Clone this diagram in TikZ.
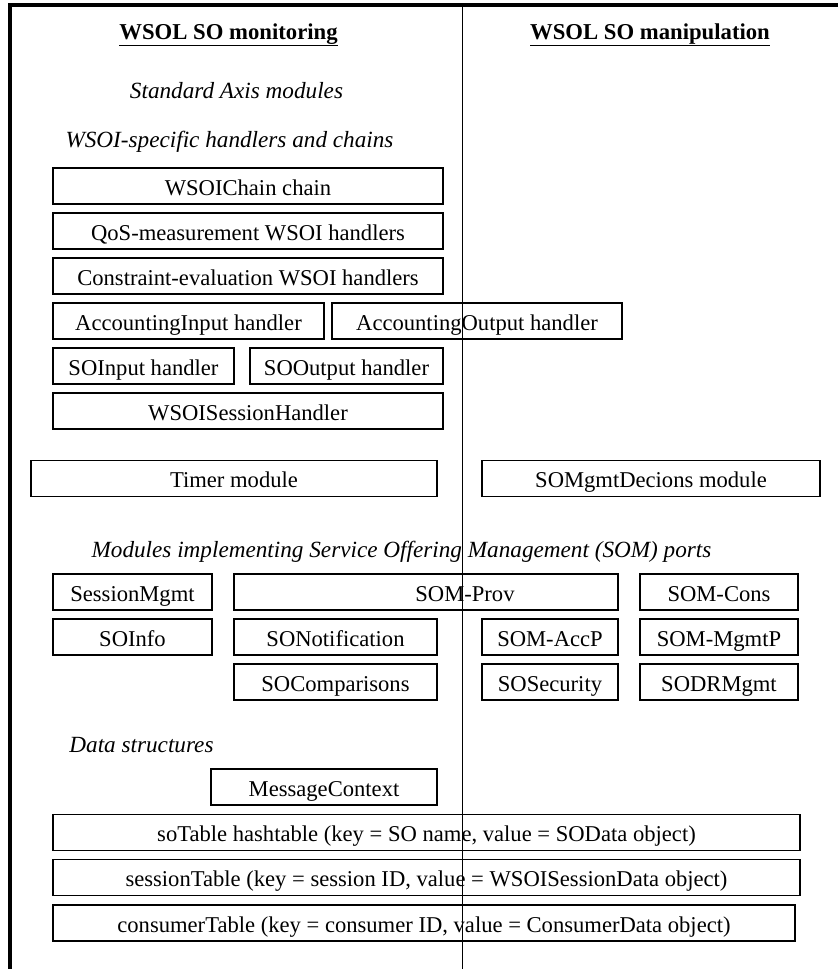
\documentclass[tikz,border=0pt]{standalone}
\usepackage{fontspec}
\setmainfont{Liberation Serif}
\usepackage{tikz}
\tikzstyle{module} = [rectangle, minimum height=36pt, inner sep=0pt, text height=20pt, text depth=2pt, text centered, draw=black, line width=1.6pt]
\tikzstyle{heading} = [anchor=base, font=\fontsize{22.7}{24}\selectfont\bfseries]
\tikzstyle{group} = [anchor=base, font=\fontsize{23.2}{25}\selectfont\itshape]
\tikzstyle{frame} = [line width=4pt]
\tikzstyle{divider} = [line width=0.8pt]

\begin{document}
\begin{tikzpicture}[x=1pt, y=-1pt, node distance=45pt, font=\fontsize{22.6}{24}\selectfont]
\useasboundingbox (0,0) rectangle (838,969);

% Frame and column divider
\coordinate (topLeft) at (10,5);
\coordinate (topRight) at (838,5);
\coordinate (bottomLeft) at (10,969);
\coordinate (divTop) at (462,5);
\coordinate (divBottom) at (462,969);
\draw [frame] (topRight) -- (topLeft) -- (bottomLeft);
\draw [divider] (divTop) -- (divBottom);

% Headings
\node (monitoring) [heading] at (228.5,39) {\underline{WSOL SO monitoring}};
\node (manipulation) [heading] at (650,39) {\underline{WSOL SO manipulation}};
\node (axisLabel) [group] at (236.5,98) {Standard Axis modules};
\node (wsoiLabel) [group] at (229.5,147) {WSOI-specific handlers and chains};

% Handlers and chains
\node (chain) [module, minimum width=390pt] at (248,186) {WSOIChain chain};
\node (qos) [module, minimum width=390pt, below of=chain] {QoS-measurement WSOI handlers};
\node (constraint) [module, minimum width=390pt, below of=qos] {Constraint-evaluation WSOI handlers};
\node (accIn) [module, minimum width=271pt] at (188.5,321) {AccountingInput handler};
\node (accOut) [module, minimum width=290pt] at (477,321) {AccountingOutput handler};
\node (soIn) [module, minimum width=181pt] at (143.5,366) {SOInput handler};
\node (soOut) [module, minimum width=193pt] at (346.5,366) {SOOutput handler};
\node (sessionHandler) [module, minimum width=390pt] at (248,411) {WSOISessionHandler};

% Modules
\node (timer) [module, minimum width=406pt] at (234,478.5) {Timer module};
\node (decisions) [module, minimum width=338pt] at (651,478.5) {SOMgmtDecions module};

% SOM ports
\node (somLabel) [group] at (401.5,557) {Modules implementing Service Offering Management (SOM) ports};
\node (sessionMgmt) [module, minimum width=159pt] at (132.5,592) {SessionMgmt};
\node (somProv) [module, minimum width=384pt] at (426,592) {\hspace{78pt}SOM-Prov};
\node (somCons) [module, minimum width=158pt] at (719,592) {SOM-Cons};
\node (soInfo) [module, minimum width=159pt, below of=sessionMgmt] {SOInfo};
\node (soNotification) [module, minimum width=203pt] at (335.5,637) {SONotification};
\node (somAccP) [module, minimum width=136pt] at (550,637) {SOM-AccP};
\node (somMgmtP) [module, minimum width=158pt, below of=somCons] {SOM-MgmtP};
\node (soComparisons) [module, minimum width=203pt, below of=soNotification] {SOComparisons};
\node (soSecurity) [module, minimum width=136pt, below of=somAccP] {SOSecurity};
\node (soDRMgmt) [module, minimum width=158pt, below of=somMgmtP] {SODRMgmt};

% Data structures
\node (dataLabel) [group] at (141.5,752) {Data structures};
\node (msgContext) [module, minimum width=226pt] at (324,787) {MessageContext};
\node (soTable) [module, minimum width=747pt] at (426.5,832.5) {soTable hashtable (key = SO name, value = SOData object)\hspace{43pt}};
\node (sessionTable) [module, minimum width=747pt, below of=soTable] {sessionTable (key = session ID, value = WSOISessionData object)};
\node (consumerTable) [module, minimum width=742pt] at (424,923) {consumerTable (key = consumer ID, value = ConsumerData object)};

\end{tikzpicture}
\end{document}
